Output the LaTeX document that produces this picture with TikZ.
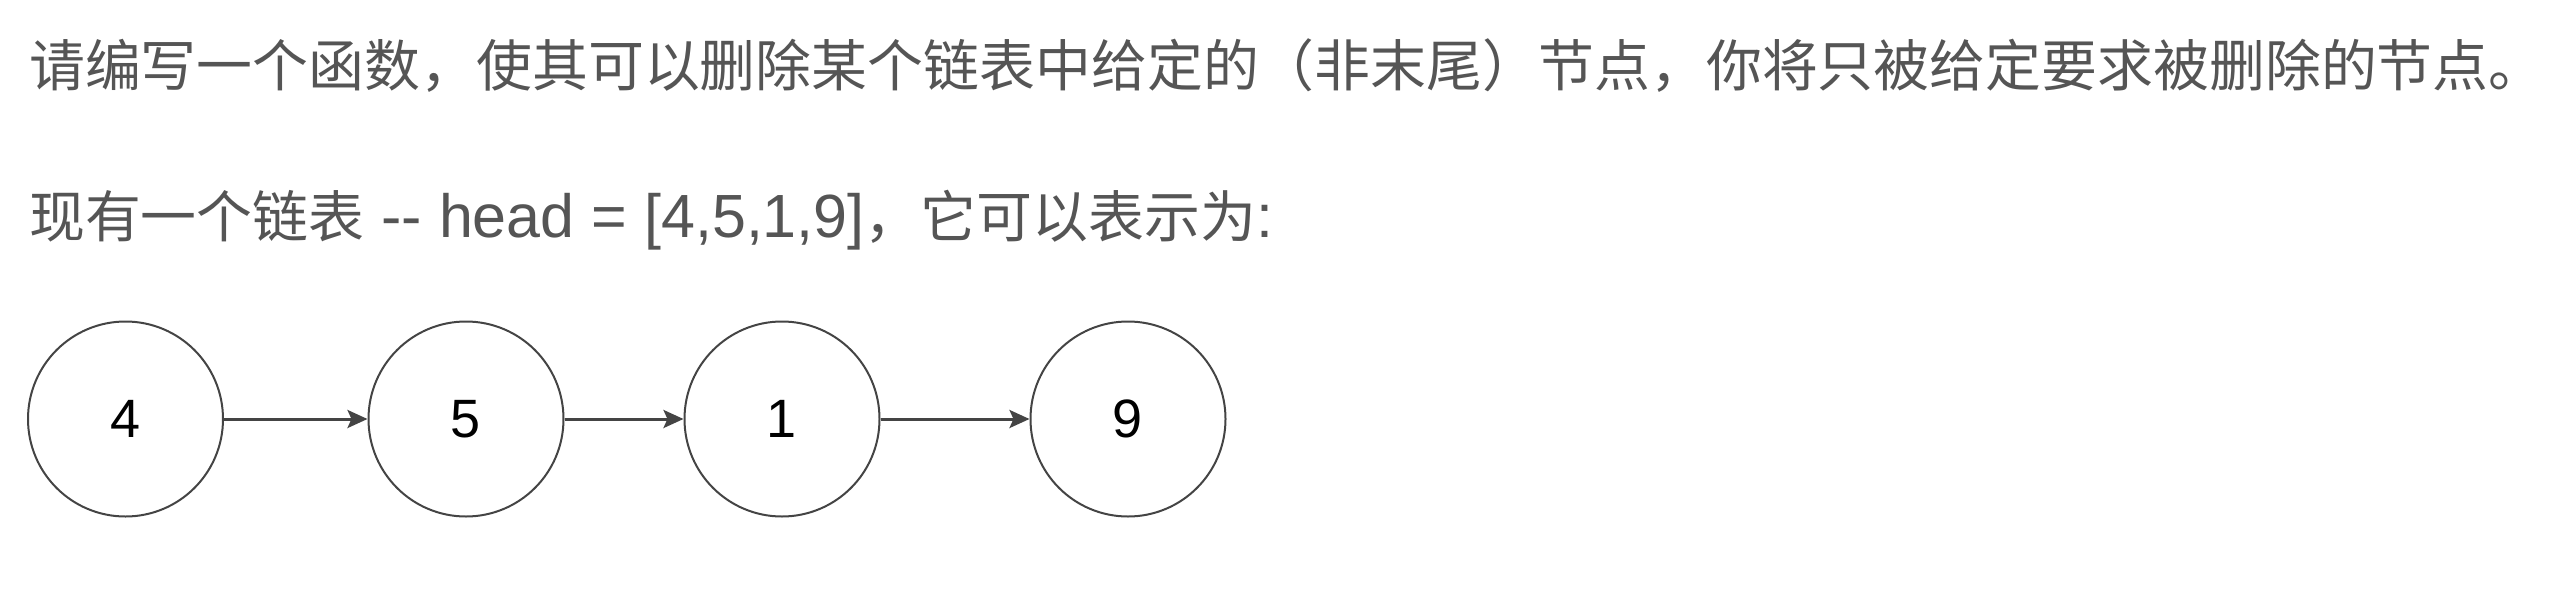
\documentclass[tikz,border=0pt]{standalone}
\usepackage{fontspec}
\setmainfont{Liberation Sans}
\newfontfamily\cjk{Noto Sans CJK SC}
\newfontfamily\lat{Liberation Sans}
\usetikzlibrary{arrows.meta}
\definecolor{txtgray}{HTML}{555555}
\definecolor{linegray}{HTML}{444444}
\tikzset{
  para/.style={anchor=base west, inner sep=0pt, text=txtgray},
  listnode/.style={circle, draw=linegray, line width=2pt, minimum size=195pt, inner sep=0pt, font=\lat\fontsize{54}{60}\selectfont, text=black},
  link/.style={line width=3pt, draw=linegray, -{Stealth[length=20pt,width=18pt,inset=4pt]}, shorten >=0pt}
}
\begin{document}
\begin{tikzpicture}[x=1pt,y=-1pt]
\useasboundingbox (0,0) rectangle (2560,592);
\node[para] (line1) at (29,86) {\cjk\fontsize{55.9}{60}\selectfont 请编写一个函数，使其可以删除某个链表中给定的（非末尾）节点，你将只被给定要求被删除的节点。};
\node[para] (line2) at (29,237) {\cjk\fontsize{55.9}{60}\selectfont 现有一个链表{\lat\fontsize{61}{60}\selectfont{} -{}- head = [4,5,1,9]}，它可以表示为{\lat\fontsize{61}{60}\selectfont :}};
\node[listnode] (n4) at (125.5,419) {4};
\node[listnode] (n5) at (466,419) {5};
\node[listnode] (n1) at (782,419) {1};
\node[listnode] (n9) at (1128,419) {9};
\draw[link] (n4) -- (n5);
\draw[link] (n5) -- (n1);
\draw[link] (n1) -- (n9);
\end{tikzpicture}
\end{document}
